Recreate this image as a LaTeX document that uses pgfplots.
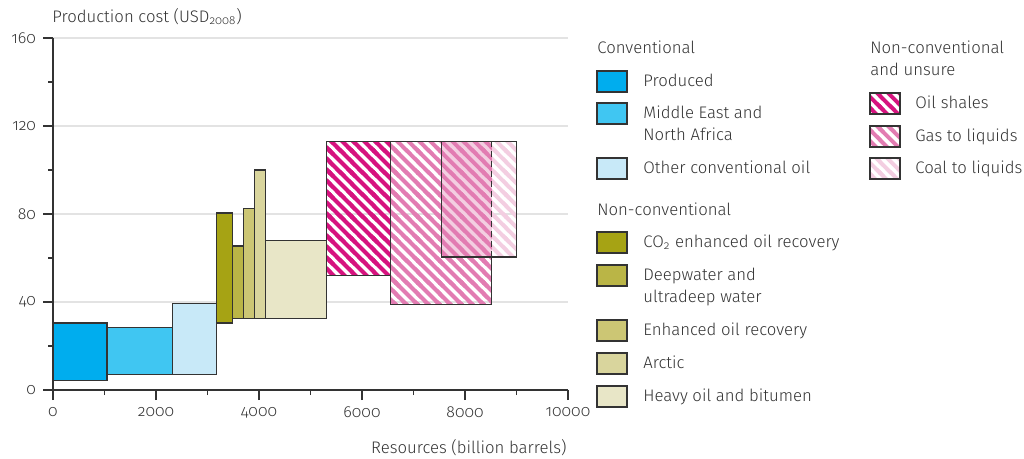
\documentclass[border=0pt]{standalone}
\usepackage{pgfplots}
\pgfplotsset{compat=1.18}
\usetikzlibrary{patterns}
\usepackage{fontspec}
\setmainfont{Fira Sans}[UprightFont=* Light, Numbers=OldStyle]

\definecolor{cProd}{HTML}{00ADEE}
\definecolor{cMena}{HTML}{40C6F2}
\definecolor{cOther}{HTML}{C8E9F8}
\definecolor{cCo}{HTML}{A6A314}
\definecolor{cDeep}{HTML}{BAB546}
\definecolor{cEor}{HTML}{CCC674}
\definecolor{cArc}{HTML}{D9D59D}
\definecolor{cHeavy}{HTML}{E8E6C7}
\definecolor{cShale}{HTML}{D6137F}
\definecolor{cGtl}{HTML}{E27CB2}
\definecolor{cCtl}{HTML}{F3CEE1}
\definecolor{lineC}{HTML}{333333}
\definecolor{txtC}{HTML}{333333}

\newcommand\lf{\fontsize{8.4}{10}\selectfont}

% wide diagonal stripes; the tile box overlaps its step so no seams show
\pgfdeclarepatternformonly{diagstripes}{\pgfpoint{-1bp}{-1bp}}{\pgfpoint{12bp}{12bp}}{\pgfpoint{11bp}{11bp}}{%
  \pgfsetlinewidth{1.95bp}%
  \pgfpathmoveto{\pgfpoint{-2.5bp}{-3bp}}\pgfpathlineto{\pgfpoint{-3bp}{-2.5bp}}%
  \pgfpathmoveto{\pgfpoint{3bp}{-3bp}}\pgfpathlineto{\pgfpoint{-3bp}{3bp}}%
  \pgfpathmoveto{\pgfpoint{8.5bp}{-3bp}}\pgfpathlineto{\pgfpoint{-3bp}{8.5bp}}%
  \pgfpathmoveto{\pgfpoint{14bp}{-3bp}}\pgfpathlineto{\pgfpoint{-3bp}{14bp}}%
  \pgfpathmoveto{\pgfpoint{19.5bp}{-3bp}}\pgfpathlineto{\pgfpoint{-3bp}{19.5bp}}%
  \pgfpathmoveto{\pgfpoint{25bp}{-3bp}}\pgfpathlineto{\pgfpoint{-3bp}{25bp}}%
  \pgfusepath{stroke}%
}

\tikzset{
  box/.style={draw=lineC, line width=0.6bp},
  stripes/.style={pattern=diagstripes, pattern color=#1},
}

\begin{document}
\begin{tikzpicture}[font=\lf, text=txtC]
\path[use as bounding box] (0,0) rectangle (512bp,229.5bp);
\begin{axis}[
    at={(26.5bp,34.5bp)}, anchor=south west,
    scale only axis, width=257.5bp, height=176bp,
    xmin=0, xmax=10000, ymin=0, ymax=160,
    axis lines*=left,
    xtick={0,2000,...,10000}, minor xtick={1000,3000,...,9000},
    ytick={0,40,...,160}, minor ytick={20,60,100,140},
    tick align=outside, major tick length=5bp, minor tick length=2.5bp,
    tick style={color=lineC, line width=0.6bp},
    axis line style={color=lineC, line width=0.6bp},
    ymajorgrids, grid style={color=black!11, line width=1bp},
    scaled x ticks=false,
    /pgf/number format/1000 sep={},
    /pgf/number format/assume math mode=true,
    tick label style={font=\fontsize{8}{9}\selectfont, text=txtC},
    clip=false,
  ]
  % conventional
  \addplot[box, fill=cProd]  coordinates {(0,4.5) (1050,4.5) (1050,30.5) (0,30.5)} -- cycle;
  \addplot[box, fill=cMena]  coordinates {(1050,7) (2320,7) (2320,28.5) (1050,28.5)} -- cycle;
  \addplot[box, fill=cOther] coordinates {(2320,7) (3180,7) (3180,39.5) (2320,39.5)} -- cycle;
  % non-conventional
  \addplot[box, fill=cCo]    coordinates {(3180,30.5) (3480,30.5) (3480,80.5) (3180,80.5)} -- cycle;
  \addplot[box, fill=cDeep]  coordinates {(3480,32.5) (3700,32.5) (3700,65.5) (3480,65.5)} -- cycle;
  \addplot[box, fill=cEor]   coordinates {(3700,32.5) (3920,32.5) (3920,82.5) (3700,82.5)} -- cycle;
  \addplot[box, fill=cArc]   coordinates {(3920,32.5) (4130,32.5) (4130,100) (3920,100)} -- cycle;
  \addplot[box, fill=cHeavy] coordinates {(4130,32.5) (5310,32.5) (5310,68) (4130,68)} -- cycle;
  % non-conventional and unsure
  \addplot[box, stripes=cShale] coordinates {(5310,52) (6560,52) (6560,113) (5310,113)} -- cycle;
  \addplot[draw=none, stripes=cCtl] coordinates {(7540,60.5) (9000,60.5) (9000,113) (7540,113)} -- cycle;
  % where gas to liquids and coal to liquids overlap
  \addplot[draw=none, fill=cCtl] coordinates {(7540,60.5) (8520,60.5) (8520,113) (7540,113)} -- cycle;
  \addplot[draw=none, stripes=cGtl] coordinates {(6560,39) (8520,39) (8520,113) (6560,113)} -- cycle;
  \addplot[box] coordinates {(8520,60.5) (8520,39) (6560,39) (6560,113) (8520,113)};
  \addplot[box, dash pattern=on 3bp off 2bp] coordinates {(8520,113) (8520,60.5)};
  \addplot[box] coordinates {(7540,60.5) (9000,60.5) (9000,113) (7540,113)} -- cycle;
\end{axis}

\begin{scope}[shift={(0,229.5bp)}, x=0.5bp, y=-0.5bp, every node/.style={inner sep=0pt}]
  % axis titles
  \node[anchor=mid west] at (52,17) {Production cost (USD\textsubscript{2008})};
  \node[anchor=mid east] at (567,448) {Resources (billion barrels)};
  % legend, left column
  \node[anchor=mid west] at (597,48) {Conventional};
  \draw[box, fill=cProd]  (597,71) rectangle (627,92);
  \node[anchor=mid west] at (643,81) {Produced};
  \draw[box, fill=cMena]  (597,103) rectangle (627,124);
  \node[anchor=mid west] at (643,113) {Middle East and};
  \node[anchor=mid west] at (643,135) {North Africa};
  \draw[box, fill=cOther] (597,158) rectangle (627,179);
  \node[anchor=mid west] at (643,168) {Other conventional oil};
  \node[anchor=mid west] at (597,210) {Non-conventional};
  \draw[box, fill=cCo]    (597,232) rectangle (627,253);
  \node[anchor=mid west] at (643,242) {CO\textsubscript{2} enhanced oil recovery};
  \draw[box, fill=cDeep]  (597,265) rectangle (627,286);
  \node[anchor=mid west] at (643,275) {Deepwater and};
  \node[anchor=mid west] at (643,297) {ultradeep water};
  \draw[box, fill=cEor]   (597,320) rectangle (627,341);
  \node[anchor=mid west] at (643,330) {Enhanced oil recovery};
  \draw[box, fill=cArc]   (597,353) rectangle (627,374);
  \node[anchor=mid west] at (643,363) {Arctic};
  \draw[box, fill=cHeavy] (597,386) rectangle (627,407);
  \node[anchor=mid west] at (643,396) {Heavy oil and bitumen};
  % legend, right column
  \node[anchor=mid west] at (870,48) {Non-conventional};
  \node[anchor=mid west] at (870,70) {and unsure};
  \draw[box, stripes=cShale] (870,93) rectangle (900,114);
  \node[anchor=mid west] at (915,103) {Oil shales};
  \draw[box, stripes=cGtl] (870,126) rectangle (900,147);
  \node[anchor=mid west] at (915,136) {Gas to liquids};
  \draw[box, stripes=cCtl] (870,158) rectangle (900,179);
  \node[anchor=mid west] at (915,168) {Coal to liquids};
\end{scope}
\end{tikzpicture}
\end{document}
